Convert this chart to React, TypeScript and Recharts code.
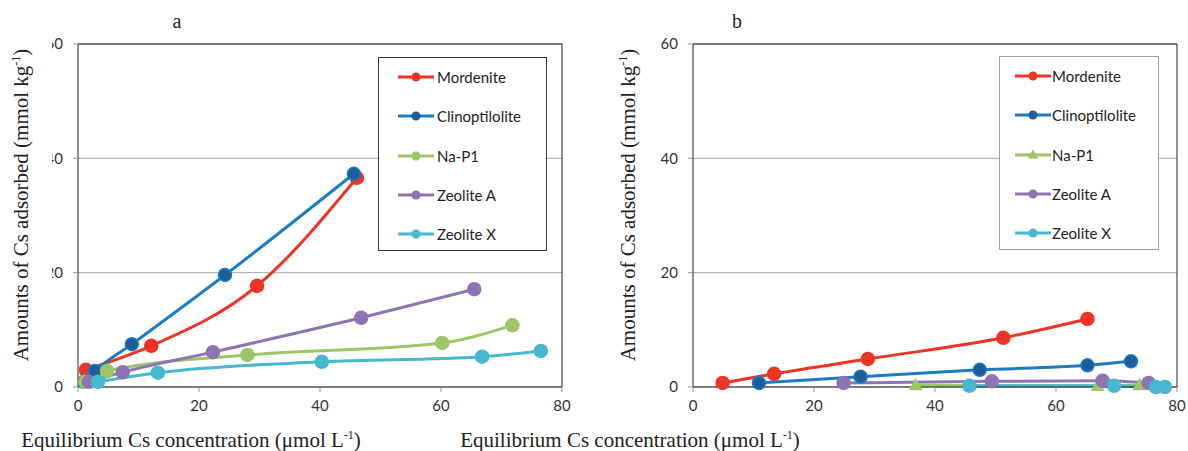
import React from "react";
import {
  LineChart,
  Line,
  XAxis,
  YAxis,
  CartesianGrid,
  ReferenceLine,
} from "recharts";

// x ticks / y ticks
const xTicks = [0, 20, 40, 60, 80];
const yTicks = [0, 20, 40, 60];

const seriesNames = ["Mordenite", "Clinoptilolite", "Na-P1", "Zeolite A", "Zeolite X"];

// panel a
const mordeniteAX = [1.3, 12.1, 29.6, 46.1];
const mordeniteAY = [3.0, 7.2, 17.7, 36.6];
const clinoAX = [1.0, 2.8, 8.9, 24.3, 45.6];
const clinoAY = [0.9, 2.8, 7.5, 19.6, 37.3];
const naP1AX = [1.2, 4.8, 28.0, 60.2, 71.8];
const naP1AY = [0.9, 2.8, 5.6, 7.7, 10.8];
const zeoAAX = [1.8, 7.4, 22.3, 46.8, 65.5];
const zeoAAY = [0.9, 2.6, 6.1, 12.1, 17.1];
const zeoXAX = [3.3, 13.2, 40.3, 66.8, 76.5];
const zeoXAY = [0.9, 2.5, 4.4, 5.3, 6.3];

// panel b
const mordeniteBX = [4.9, 13.4, 28.9, 51.3, 65.2];
const mordeniteBY = [0.7, 2.3, 4.9, 8.6, 11.9];
const clinoBX = [10.9, 27.7, 47.4, 65.2, 72.4];
const clinoBY = [0.7, 1.8, 3.0, 3.8, 4.5];
const naP1BX = [36.8, 66.9, 73.8, 75.6];
const naP1BY = [0.3, 0.2, 0.3, 0.8];
const zeoABX = [24.9, 49.4, 67.7, 75.3];
const zeoABY = [0.7, 1.0, 1.1, 0.7];
const zeoXBX = [45.7, 69.6, 76.5, 78.0];
const zeoXBY = [0.2, 0.2, 0.0, 0.0];

const colors = ["#ee3424", "#1a7dc4", "#9dc666", "#8f74b3", "#47b8d0"];
const markerFill = ["#ee3424", "#1f5c9a", "#9dc666", "#8f74b3", "#47b8d0"];

const pts = (xs: number[], ys: number[]) => xs.map((x, i) => ({ x, y: ys[i] }));

const panelA = [
  pts(mordeniteAX, mordeniteAY),
  pts(clinoAX, clinoAY),
  pts(naP1AX, naP1AY),
  pts(zeoAAX, zeoAAY),
  pts(zeoXAX, zeoXAY),
];
const panelB = [
  pts(mordeniteBX, mordeniteBY),
  pts(clinoBX, clinoBY),
  pts(naP1BX, naP1BY),
  pts(zeoABX, zeoABY),
  pts(zeoXBX, zeoXBY),
];

const tickFont = { fontSize: 15, fill: "#333", fontFamily: "Lato" };
const serif = "'Liberation Serif', 'DejaVu Serif', serif";

const triangle = (color: string, size: number) => (p: any) => {
  const { cx, cy, index } = p;
  const h = size * 1.8;
  return (
    <path
      key={`tri-${index}`}
      d={`M${cx},${cy - h * 0.6} L${cx + size},${cy + h * 0.4} L${cx - size},${cy + h * 0.4} Z`}
      fill={color}
    />
  );
};

const Panel = ({ data, left, width, triangleNa }: any) => (
  <div style={{ position: "absolute", left, top: 0 }}>
    <LineChart
      width={width}
      height={451}
      margin={{ top: 44, right: width - 78 - 484 < 0 ? width - 78 - 476 : width - 78 - 484, left: 48, bottom: 34 }}
    >
      <CartesianGrid vertical={false} stroke="#a6a6a6" />
      <XAxis
        type="number"
        dataKey="x"
        domain={[0, 80]}
        ticks={xTicks}
        height={30}
        tick={tickFont}
        tickSize={5}
        tickMargin={8}
        stroke="#222"
        tickLine={{ stroke: "#999" }}
        allowDataOverflow
      />
      <YAxis
        type="number"
        domain={[0, 60]}
        ticks={yTicks}
        width={30}
        tick={tickFont}
        tickSize={5}
        tickMargin={10}
        stroke="#222"
        tickLine={{ stroke: "#999" }}
      />
      <ReferenceLine y={60} stroke="#222" />
      <ReferenceLine x={80} stroke="#222" />
      {data.map((d: any[], i: number) => (
        <Line
          key={seriesNames[i]}
          data={d}
          dataKey="y"
          name={seriesNames[i]}
          type="monotone"
          stroke={colors[i]}
          strokeWidth={3}
          isAnimationActive={false}
          activeDot={false}
          dot={
            triangleNa && i === 2
              ? triangle(colors[i], 7)
              : { r: 6.5, fill: markerFill[i], stroke: i === 1 ? colors[1] : markerFill[i], strokeWidth: 1.5 }
          }
        />
      ))}
    </LineChart>
  </div>
);

const LegendBox = ({ left, top, width, border, lineX, textX, triangleNa }: any) => (
  <div
    style={{
      position: "absolute",
      left,
      top,
      width,
      height: 194,
      border: `1px solid ${border}`,
      background: "#fff",
      boxSizing: "border-box",
      fontFamily: "Lato",
      fontSize: 15,
      color: "#222",
    }}
  >
    {seriesNames.map((n, i) => {
      const cy = 19 + i * 39.3;
      return (
        <div key={n} style={{ position: "absolute", left: 0, top: cy - 10, height: 20, width: "100%" }}>
          <svg width={textX} height={20} style={{ position: "absolute", left: 0, top: 0 }}>
            <line x1={lineX} x2={lineX + 36} y1={10} y2={10} stroke={colors[i]} strokeWidth={3} />
            {triangleNa && i === 2 ? (
              <path d={`M${lineX + 18},4.5 L${lineX + 23.5},13.5 L${lineX + 12.5},13.5 Z`} fill={colors[i]} />
            ) : (
              <circle cx={lineX + 18} cy={10} r={4.5} fill={markerFill[i]} />
            )}
          </svg>
          <span style={{ position: "absolute", left: textX, top: 0, lineHeight: "20px", whiteSpace: "nowrap" }}>{n}</span>
        </div>
      );
    })}
  </div>
);

const RotTitle = ({ cx, cy }: any) => (
  <div
    style={{
      position: "absolute",
      left: cx,
      top: cy,
      transform: "translate(-50%, -50%) rotate(-90deg)",
      whiteSpace: "nowrap",
      fontFamily: serif,
      fontSize: 21,
      color: "#222",
    }}
  >
    Amounts of Cs adsorbed (mmol kg<sup style={{ fontSize: 12 }}>-1</sup>)
  </div>
);

const XTitle = ({ cx }: any) => (
  <div
    style={{
      position: "absolute",
      left: cx,
      top: 440,
      transform: "translate(-50%, -50%)",
      whiteSpace: "nowrap",
      fontFamily: serif,
      fontSize: 21,
      color: "#222",
    }}
  >
    Equilibrium Cs concentration (μmol L<sup style={{ fontSize: 12 }}>-1</sup>)
  </div>
);

const PanelLabel = ({ cx, text }: any) => (
  <div
    style={{
      position: "absolute",
      left: cx,
      top: 21,
      transform: "translate(-50%, -50%)",
      fontFamily: serif,
      fontSize: 20,
      color: "#222",
    }}
  >
    {text}
  </div>
);

export default function App() {
  return (
    <div style={{ position: "relative", width: 1188, height: 451, background: "#fff", overflow: "hidden" }}>
      <style>{"body{margin:0}"}</style>
      <Panel data={panelA} left={0} width={600} />
      <Panel data={panelB} left={615} width={573} triangleNa />
      <LegendBox left={378} top={57} width={169} border="#333" lineX={19} textX={58} />
      <LegendBox left={999} top={56} width={160} border="#a0a0a0" lineX={15} textX={52} triangleNa />
      {/* panel a title box hides part of the tick labels, like the source */}
      <div style={{ position: "absolute", left: 0, top: 30, width: 52, height: 365, background: "#fff" }} />
      <RotTitle cx={21} cy={205} />
      <RotTitle cx={628} cy={205} />
      <XTitle cx={191} />
      <XTitle cx={630} />
      <PanelLabel cx={177} text="a" />
      <PanelLabel cx={737} text="b" />
    </div>
  );
}
